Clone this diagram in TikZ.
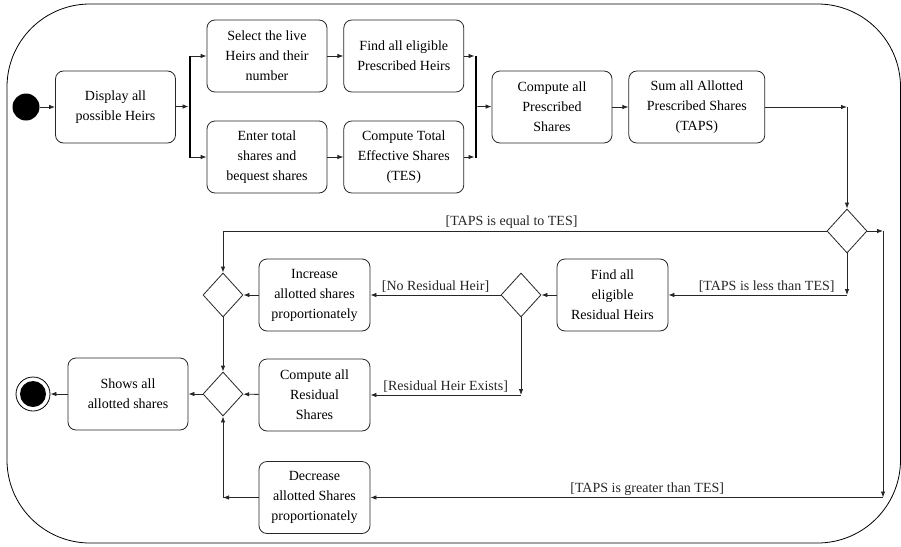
\documentclass[tikz,border=0pt]{standalone}
\usepackage{fontspec}
\setmainfont{Liberation Serif}
\usetikzlibrary{positioning,arrows.meta,shapes.geometric}

\begin{document}
\begin{tikzpicture}[
  x=1pt,y=-1pt,
  font=\fontsize{14}{20}\selectfont,
  node distance=16pt,
  box/.style={rectangle,rounded corners=8pt,draw=black!85,line width=0.8pt,
              minimum height=72pt,minimum width=120pt,align=center,inner sep=2pt},
  lowbox/.style={box,minimum width=111pt},
  bar/.style={fill=black,inner sep=0pt,minimum width=2.5pt,minimum height=102pt},
  decision/.style={diamond,draw=black!85,line width=0.8pt,inner sep=0pt,
                   minimum width=40pt,minimum height=44pt},
  startnode/.style={circle,fill=black,inner sep=0pt,minimum size=27pt},
  endnode/.style={circle,draw,line width=0.8pt,inner sep=0pt,minimum size=34pt,
                  path picture={\fill (path picture bounding box.center) circle (13pt);}},
  guard/.style={above,inner sep=2pt},
  arr/.style={-{Latex[length=6pt,width=4.5pt]},line width=0.8pt,black!85},
]
\useasboundingbox (0,0) rectangle (901,546);
% activity frame
\draw[line width=0.8pt,rounded corners=83pt] (7,4) rectangle (900.5,543);

% upper flow: start, fork, parallel actions, join
\node[startnode] (start) at (26,107) {};
\node[box] (disp) at (115.5,107) {Display all\\possible Heirs};
\node[bar] (fork) at (190,106.5) {};
\node[box] (sel) at (267,56) {Select the live\\Heirs and their\\number};
\node[box] (ent) at (267,157) {Enter total\\shares and\\bequest shares};
\node[box,right=of sel] (find) {Find all eligible\\Prescribed Heirs};
\node[box,right=of ent] (tes) {Compute Total\\Effective Shares\\(TES)};
\node[bar] (join) at (476,106.5) {};
\node[box] (comp) at (552,107) {Compute all\\Prescribed\\Shares};
\node[box,minimum width=136pt,right=of comp] (sum) {Sum all Allotted\\Prescribed Shares\\(TAPS)};

\draw[arr] (start) -- (disp);
\draw[arr] (disp) -- (fork);
\draw[arr] (fork.east |- sel.west) -- (sel.west);
\draw[arr] (fork.east |- ent.west) -- (ent.west);
\draw[arr] (sel) -- (find); \draw[arr] (ent) -- (tes);
\draw[arr] (find.east) -- (find.east -| join.west);
\draw[arr] (tes.east) -- (tes.east -| join.west);
\draw[arr] (join) -- (comp); \draw[arr] (comp) -- (sum);

% decisions and lower actions
\node[decision] (dec) at (847,231) {};
\node[box,minimum width=111pt] (resid) at (612.5,295) {Find all\\eligible\\Residual Heirs};
\node[decision] (hasres) at (521,295) {};
\node[lowbox] (incr) at (314.5,295) {Increase\\allotted shares\\proportionately};
\node[lowbox] (crs) at (314.5,395) {Compute all\\Residual\\Shares};
\node[lowbox] (decr) at (314.5,497.5) {Decrease\\allotted Shares\\proportionately};
\node[decision] (merge1) at (223,295) {};
\node[decision] (merge2) at (223,394) {};
\node[box] (shows) at (128,394) {Shows all\\allotted shares};
\node[endnode] (stop) at (33,394) {};

\coordinate (c1) at (sum.east -| dec.north);
\coordinate (c2) at (883,231);
\coordinate (c3) at (883,497.5);
\coordinate (c4) at (dec.south |- resid.east);
\coordinate (c5) at (hasres.south |- crs.east);
\coordinate (c6) at (merge2.south |- decr.west);

\draw[arr] (sum.east) -- (c1);
\draw[arr] (c1) -- (dec.north);
\draw[arr] (dec.west) -| node[guard,pos=0.261] (eq) {[TAPS is equal to TES]} (merge1.north);
\draw[arr] (dec.east) -- (c2);
\draw[arr] (c2) -- (c3);
\draw[arr] (c3) -- node[guard,pos=0.46] (gt) {[TAPS is greater than TES]} (decr.east);
\draw[arr] (dec.south) -- (c4);
\draw[arr] (c4) -- node[guard,pos=0.45] (lt) {[TAPS is less than TES]} (resid.east);
\draw[arr] (resid) -- (hasres);
\draw[arr] (hasres.west) -- node[guard] (nores) {[No Residual Heir]} (incr.east);
\draw[arr] (hasres.south) -- (c5);
\draw[arr] (c5) -- node[guard] (res) {[Residual Heir Exists]} (crs.east);
\draw[arr] (incr) -- (merge1);
\draw[arr] (merge1) -- (merge2);
\draw[arr] (crs) -- (merge2);
\draw[arr] (decr.west) -- (c6);
\draw[arr] (c6) -- (merge2.south);
\draw[arr] (merge2) -- (shows);
\draw[arr] (shows) -- (stop);
\end{tikzpicture}
\end{document}
